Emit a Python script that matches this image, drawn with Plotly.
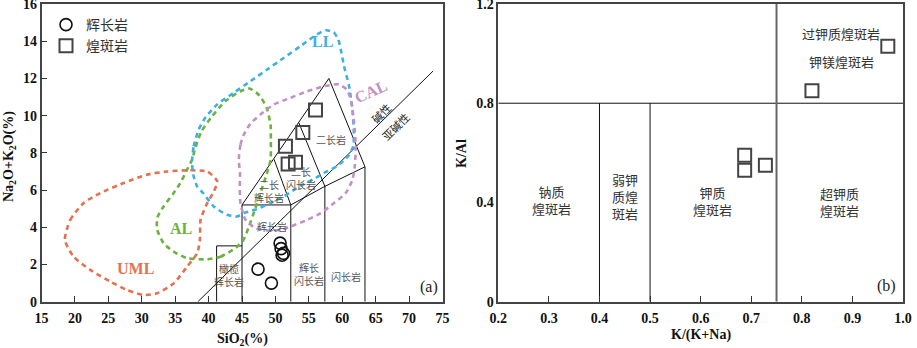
import plotly.graph_objects as go

W, H = 917, 348

# ---------------- sample data ----------------
# (a) SiO2 vs total alkali
gabbro_si = [50.7, 50.85, 51.2, 51.0, 47.4, 49.4]
gabbro_alk = [3.15, 2.85, 2.6, 2.5, 1.75, 1.0]
lamp_si = [56.0, 54.1, 51.5, 51.9, 53.0]
lamp_alk = [10.3, 9.1, 8.35, 7.4, 7.5]

# (b) K/(K+Na) vs K/Al
lamp_kkna = [0.97, 0.82, 0.687, 0.687, 0.728]
lamp_kal = [1.03, 0.85, 0.59, 0.53, 0.55]

# ---------------- classification boundaries (a) ----------------
peridot_x = [41.2, 41.2, 45.0]
peridot_y = [0, 3.0, 3.0]
gabbro_box_x = [45.0, 45.0, 52.3, 52.3]
gabbro_box_y = [0, 5.2, 5.2, 0]
monzogabbro_x = [52.3, 49.8]
monzogabbro_y = [5.2, 7.65]
outer_left_x = [45.0, 58.0]
outer_left_y = [5.2, 12.0]
outer_right_x = [58.0, 63.4, 63.4]
outer_right_y = [12.0, 7.25, 0]
inner_x = [53.5, 57.4, 57.4]
inner_y = [9.62, 6.2, 0]
base_x = [52.3, 57.4, 63.4]
base_y = [5.2, 6.2, 7.25]
alk_line_x = [38.4, 73.6]
alk_line_y = [0, 12.4]

# ---------------- tectonic fields (a) ----------------
uml_x = [18.5, 19.3, 21.3, 23.8, 27.3, 30.8, 33.8, 36.8, 39.8, 41.3, 40.7, 39.8,
         38.8, 38.7, 38.3, 36.8, 34.8, 32.3, 30.3, 27.8, 25.3, 22.3, 19.8, 18.5]
uml_y = [3.32, 4.40, 5.30, 5.84, 6.38, 6.83, 7.00, 7.06, 7.00, 6.47, 5.86, 5.30,
         4.40, 3.32, 2.61, 1.89, 0.99, 0.45, 0.36, 0.63, 1.08, 1.71, 2.42, 3.32]

al_x = [39.78, 41.77, 44.02, 45.22, 45.97, 47.02, 47.92, 48.67, 49.27, 49.32, 49.27,
        48.67, 47.62, 46.12, 44.77, 42.52, 40.53, 38.92, 38.02, 37.53, 36.78, 35.77,
        34.77, 33.27, 32.32, 32.32, 33.27, 34.77, 36.78, 39.78]
al_y = [2.28, 2.42, 2.88, 3.32, 3.97, 5.05, 6.02, 6.83, 7.63, 8.71, 9.52,
        10.44, 11.08, 11.46, 11.31, 10.78, 9.97, 9.14, 8.28, 7.63, 7.10, 6.38,
        5.84, 5.12, 4.51, 3.86, 3.15, 2.69, 2.34, 2.28]

ll_x = [37.53, 37.77, 38.52, 39.52, 41.28, 43.77, 46.27, 48.78, 51.27, 53.77, 55.77,
        57.52, 58.72, 59.40, 59.77, 60.27, 61.02, 61.53, 61.72, 61.65, 60.82, 59.17,
        57.27, 56.02, 53.77, 51.27, 49.27, 47.28, 45.27, 44.28, 42.78, 40.77, 39.27,
        38.28, 37.77, 37.53, 37.53]
ll_y = [7.63, 8.35, 9.25, 9.90, 10.60, 11.23, 11.85, 12.48, 13.11, 13.74, 14.26,
        14.59, 14.48, 14.10, 13.56, 12.66, 11.58, 10.33, 9.25, 8.35, 7.80, 7.27,
        6.92, 6.65, 6.23, 5.66, 5.30, 4.98, 4.76, 4.58, 4.67, 5.12, 5.80,
        6.20, 6.73, 7.37, 7.63]

cal_x = [44.52, 44.77, 45.27, 46.27, 47.77, 49.77, 52.27, 54.78, 57.27, 59.47, 60.67,
         61.27, 61.77, 62.02, 61.87, 61.53, 60.52, 58.77, 56.77, 54.78, 52.27, 50.77,
         48.78, 47.02, 45.52, 44.77, 44.67, 44.70, 44.52]
cal_y = [7.63, 8.44, 8.98, 9.57, 10.06, 10.60, 10.96, 11.31, 11.58, 11.68, 11.41,
         10.87, 9.61, 8.35, 7.27, 6.56, 5.84, 5.30, 4.76, 4.40, 4.04, 3.86,
         3.83, 3.95, 4.40, 5.30, 6.20, 6.92, 7.63]

fields = [
    ("UML", uml_x, uml_y, "#e4714f", 29.0, 1.80, 0),
    ("AL", al_x, al_y, "#6cb23f", 35.8, 3.95, 0),
    ("LL", ll_x, ll_y, "#3db1e2", 57.0, 13.96, 0),
    ("CAL", cal_x, cal_y, "#c390c6", 64.3, 11.3, -24),
]

rock_labels = [
    ("二长岩", 58.3, 8.71),
    ("二长<br>闪长岩", 53.8, 6.63),
    ("二长<br>辉长岩", 49.0, 5.93),
    ("辉长岩", 49.5, 4.04),
    ("橄榄<br>辉长岩", 43.1, 1.44),
    ("辉长<br>闪长岩", 55.0, 1.51),
    ("闪长岩", 60.5, 1.38),
]

# ---------------- classification boundaries (b) ----------------
b_lines = [
    ([0.2, 1.0], [0.8, 0.8], "#111111", 1.0),
    ([0.4, 0.4], [0, 0.8], "#111111", 1.0),
    ([0.5, 0.5], [0, 0.8], "#111111", 1.0),
    ([0.75, 0.75], [0, 1.2], "#666666", 2.0),
]
b_labels = [
    ("钠质<br>煌斑岩", 0.306, 0.41),
    ("弱钾<br>质煌<br>斑岩", 0.451, 0.425),
    ("钾质<br>煌斑岩", 0.623, 0.404),
    ("超钾质<br>煌斑岩", 0.875, 0.40),
    ("过钾质煌斑岩", 0.878, 1.082),
    ("钾镁煌斑岩", 0.878, 0.970),
]

CJK = "Noto Sans CJK SC"
SERIF = "Liberation Serif"

fig = go.Figure()

# boundary lines for (a)
for bx, by in [(peridot_x, peridot_y), (gabbro_box_x, gabbro_box_y),
               (monzogabbro_x, monzogabbro_y), (outer_left_x, outer_left_y),
               (outer_right_x, outer_right_y), (inner_x, inner_y),
               (base_x, base_y), (alk_line_x, alk_line_y)]:
    fig.add_trace(go.Scatter(x=bx, y=by, mode="lines", showlegend=False,
                             line=dict(color="#111111", width=1),
                             hoverinfo="skip", xaxis="x", yaxis="y"))

# dashed tectonic fields
for name, fx, fy, col, lx, ly, ang in fields:
    fig.add_trace(go.Scatter(x=fx, y=fy, mode="lines", showlegend=False,
                             line=dict(color=col, width=2.6, dash="5px,4px",
                                       shape="spline", smoothing=0.6),
                             hoverinfo="skip", xaxis="x", yaxis="y"))
    fig.add_annotation(x=lx, y=ly, xref="x", yref="y", text="<b>%s</b>" % name,
                       showarrow=False, textangle=ang,
                       font=dict(family=SERIF, size=16, color=col))

# samples (a)
fig.add_trace(go.Scatter(x=gabbro_si, y=gabbro_alk, mode="markers", name="辉长岩",
                         marker=dict(symbol="circle-open", size=12,
                                     color="#111111", line=dict(width=1.6)),
                         xaxis="x", yaxis="y"))
fig.add_trace(go.Scatter(x=lamp_si, y=lamp_alk, mode="markers", name="煌斑岩",
                         marker=dict(symbol="square-open", size=13,
                                     color="#444444", line=dict(width=2)),
                         xaxis="x", yaxis="y"))

for txt, tx, ty in rock_labels:
    fig.add_annotation(x=tx, y=ty, xref="x", yref="y", text=txt, showarrow=False,
                       font=dict(family=CJK, size=10, color="#555555"))

fig.add_annotation(x=65.8, y=10.15, xref="x", yref="y", text="碱性", showarrow=False,
                   textangle=-44.5, font=dict(family=CJK, size=11, color="#222222"))
fig.add_annotation(x=68.0, y=9.43, xref="x", yref="y", text="亚碱性", showarrow=False,
                   textangle=-44.5, font=dict(family=CJK, size=11, color="#222222"))
fig.add_annotation(x=74.6, y=0.2, xref="x", yref="y", text="(a)", showarrow=False,
                   xanchor="right", yanchor="bottom",
                   font=dict(family=SERIF, size=16, color="#222222"))

# (b) boundaries
for bx, by, col, w in b_lines:
    fig.add_trace(go.Scatter(x=bx, y=by, mode="lines", showlegend=False,
                             line=dict(color=col, width=w), hoverinfo="skip",
                             xaxis="x2", yaxis="y2"))
fig.add_trace(go.Scatter(x=lamp_kkna, y=lamp_kal, mode="markers", showlegend=False,
                         name="煌斑岩",
                         marker=dict(symbol="square-open", size=13,
                                     color="#444444", line=dict(width=2)),
                         xaxis="x2", yaxis="y2"))
for txt, tx, ty in b_labels:
    fig.add_annotation(x=tx, y=ty, xref="x2", yref="y2", text=txt, showarrow=False,
                       font=dict(family=CJK, size=13, color="#333333"))
fig.add_annotation(x=0.99, y=0.02, xref="x2", yref="y2", text="(b)", showarrow=False,
                   xanchor="right", yanchor="bottom",
                   font=dict(family=SERIF, size=16, color="#222222"))

# axis titles
title_font = dict(family=SERIF, size=14, color="#111111")
for txt, px, py, ang in [
    ("<b>Na<sub>2</sub>O+K<sub>2</sub>O(%)</b>", 10, 157, -90),
    ("<b>SiO<sub>2</sub>(%)</b>", 242, 339, 0),
    ("<b>K/Al</b>", 461, 153, -90),
    ("<b>K/(K+Na)</b>", 701, 335, 0),
]:
    fig.add_annotation(x=px / W, y=1 - py / H, xref="paper", yref="paper",
                       xanchor="center", yanchor="middle", text=txt,
                       showarrow=False, textangle=ang, font=title_font)

tickfont = dict(family=SERIF, size=14, color="#111111", weight="bold")
ytop = 1 - 4 / H
ybot = 1 - 301.7 / H
frame = dict(showline=True, linecolor="#444444", linewidth=1.5, mirror=True,
             showgrid=False, zeroline=False, tickfont=tickfont,
             ticks="inside", ticklen=6, tickcolor="#333333", tickwidth=1,
             automargin=False, ticklabeloverflow="allow")

fig.update_layout(
    width=W, height=H,
    margin=dict(l=0, r=0, t=0, b=0, autoexpand=False),
    paper_bgcolor="white", plot_bgcolor="white",
    xaxis=dict(domain=[41.5 / W, 442.5 / W], range=[15, 75], tick0=15, dtick=5,
               anchor="y", ticklabelstandoff=3, **frame),
    yaxis=dict(domain=[ybot, ytop], range=[0, 16], dtick=2, anchor="x", **frame),
    xaxis2=dict(domain=[498.3 / W, 903 / W], range=[0.2, 1.0], dtick=0.1,
                tickformat=".1f", anchor="y2", ticklabelstandoff=3, **frame),
    yaxis2=dict(domain=[ybot, ytop], range=[0, 1.2],
                tickvals=[0, 0.4, 0.8, 1.2], ticktext=["0", "0.4", "0.8", "1.2"],
                anchor="x2", **{**frame, "ticks": ""}),
    legend=dict(x=46 / W, y=1 - 9 / H, xanchor="left", yanchor="top",
                bgcolor="rgba(0,0,0,0)", font=dict(family=CJK, size=14, color="#333333"),
                itemsizing="trace"),
    showlegend=True,
)

fig.write_html("out.html")
